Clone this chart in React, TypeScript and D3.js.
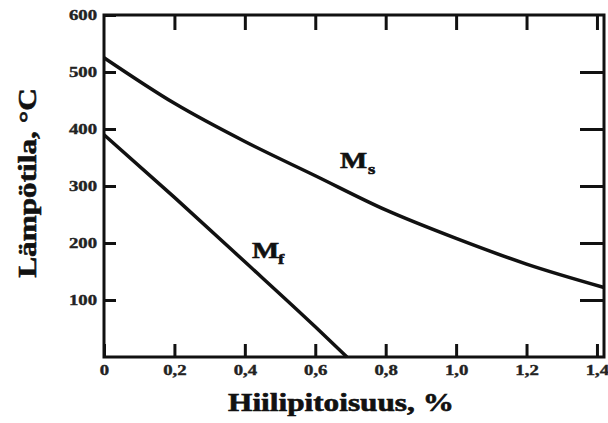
import React, { useEffect, useRef } from "react";
import * as d3 from "d3";

// carbon content (%) and temperatures (°C)
const msCarbon = [0, 0.2, 0.4, 0.6, 0.8, 1.0, 1.2, 1.42];
const msTemp = [525, 445, 378, 318, 258, 208, 163, 122];
const mfCarbon = [0, 0.2, 0.4, 0.6, 0.69];
const mfTemp = [390, 280, 167, 53, 0];

const xTicks = [0, 0.2, 0.4, 0.6, 0.8, 1.0, 1.2, 1.4];
const xTickLabels = ["0", "0,2", "0,4", "0,6", "0,8", "1,0", "1,2", "1,4"];
const yTicks = [100, 200, 300, 400, 500, 600];
const yTickLabels = ["100", "200", "300", "400", "500", "600"];

const FONT = "'Liberation Serif', 'Times New Roman', serif";
const STRETCH = 1.25; // the original scan is wider than it is tall

function Chart() {
  const ref = useRef<SVGSVGElement>(null);

  useEffect(() => {
    const width = 608;
    const height = 423;
    const marginTop = 15;
    const marginRight = 4;
    const marginBottom = 66;
    const marginLeft = 104;
    const ink = "#111";

    const svg = d3.select(ref.current);
    svg.selectAll("*").remove();

    const x = d3.scaleLinear([0, 1.42], [marginLeft, width - marginRight]);
    const y = d3.scaleLinear([0, 600], [height - marginBottom, marginTop]);

    const styleAxis = (g) => {
      g.select(".domain").remove();
      g.selectAll(".tick line").attr("stroke", ink).attr("stroke-width", 3);
      g.selectAll(".tick text")
        .attr("font-family", FONT)
        .attr("font-size", 15)
        .attr("font-weight", "bold")
        .attr("fill", "#222")
        .attr("stroke", "#222")
        .attr("stroke-width", 0.4);
    };

    // bottom axis with labels, ticks pointing in
    svg.append("g")
      .attr("transform", `translate(0,${y(0)})`)
      .call(d3.axisBottom(x).tickValues(xTicks)
        .tickFormat((d, i) => xTickLabels[i])
        .tickSize(-13).tickSizeOuter(0).tickPadding(7))
      .call(styleAxis);

    // left axis
    svg.append("g")
      .attr("transform", `translate(${marginLeft},0)`)
      .call(d3.axisLeft(y).tickValues(yTicks)
        .tickFormat((d, i) => yTickLabels[i])
        .tickSize(-12).tickSizeOuter(0).tickPadding(7))
      .call(styleAxis);

    // top + right mirrored ticks
    svg.append("g")
      .attr("transform", `translate(0,${marginTop})`)
      .call(d3.axisTop(x).tickValues(xTicks.slice(1)).tickFormat(() => "")
        .tickSize(-15).tickSizeOuter(0))
      .call(styleAxis);

    svg.append("g")
      .attr("transform", `translate(${width - marginRight},0)`)
      .call(d3.axisRight(y).tickValues(yTicks.slice(0, -1)).tickFormat(() => "")
        .tickSize(-24).tickSizeOuter(0))
      .call(styleAxis);

    // frame
    svg.append("rect")
      .attr("x", marginLeft)
      .attr("y", marginTop)
      .attr("width", width - marginRight - marginLeft)
      .attr("height", height - marginBottom - marginTop)
      .attr("fill", "none")
      .attr("stroke", ink)
      .attr("stroke-width", 3);

    const line = d3.line<number>()
      .curve(d3.curveMonotoneX);

    svg.append("path")
      .attr("fill", "none")
      .attr("stroke", ink)
      .attr("stroke-width", 3.5)
      .attr("d", line(msCarbon.map((c, i) => [x(c), y(msTemp[i])])));

    svg.append("path")
      .attr("fill", "none")
      .attr("stroke", ink)
      .attr("stroke-width", 3.5)
      .attr("d", line(mfCarbon.map((c, i) => [x(c), y(mfTemp[i])])));

    const label = (tx, ty, text, size) =>
      svg.append("text")
        .attr("x", tx)
        .attr("y", ty)
        .attr("font-family", FONT)
        .attr("font-size", size)
        .attr("font-weight", "bold")
        .attr("fill", ink)
        .attr("stroke", ink)
        .attr("stroke-width", 0.6)
        .text(text);

    // curve names with subscripts
    label(340, 168, "M", 23);
    label(368, 174, "s", 15);
    label(252, 258, "M", 23);
    label(278, 264, "f", 15);

    // axis titles
    label(341, 411, "Hiilipitoisuus, %", 25).attr("text-anchor", "middle");
    label(0, 0, "Lämpötila, °C", 25)
      .attr("text-anchor", "middle")
      .attr("transform", "translate(36,183) rotate(-90)");

    // widen every text like the scan
    svg.selectAll("text").each(function () {
      const w = this.getComputedTextLength();
      if (w > 0) {
        d3.select(this)
          .attr("textLength", w * STRETCH)
          .attr("lengthAdjust", "spacingAndGlyphs");
      }
    });
  }, []);

  return (
    <svg
      ref={ref}
      width={608}
      height={423}
      viewBox="0 0 608 423"
      style={{ position: "absolute", left: 0, top: 0, background: "#fff" }}
    />
  );
}

export default function App() {
  return <Chart />;
}
